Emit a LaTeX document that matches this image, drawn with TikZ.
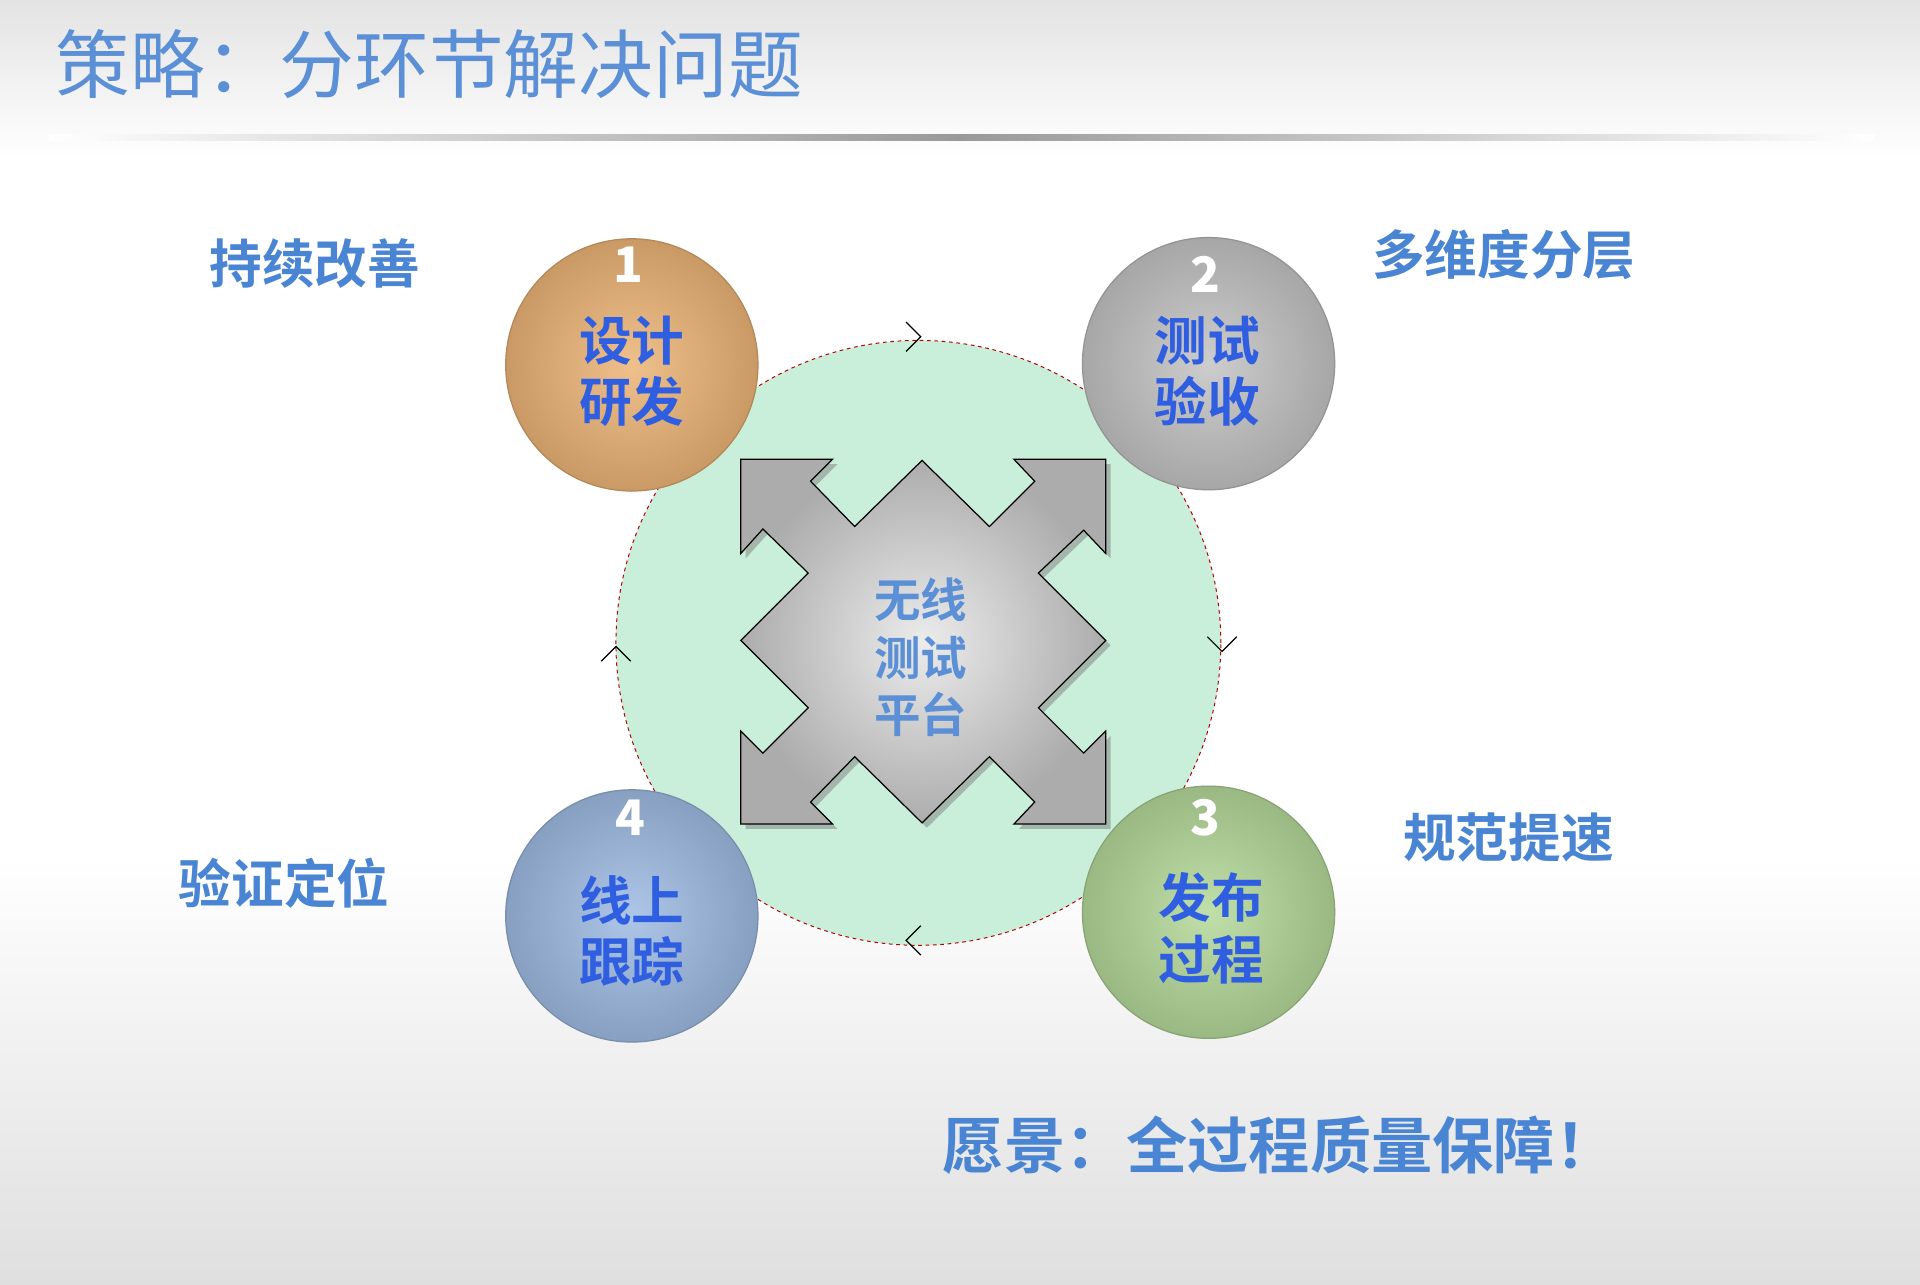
\documentclass[tikz,border=0pt]{standalone}
\usepackage{fontspec}
\setmainfont{Noto Sans CJK SC}
\newfontfamily\cjkb{Noto Sans CJK SC Bold}
\usetikzlibrary{shadows,calc}
\definecolor{ttl}{HTML}{5B8FD6}
\definecolor{lbl}{HTML}{4A85D4}
\definecolor{ctxt}{HTML}{2F5FE0}
\definecolor{ringc}{HTML}{C9EED9}
\definecolor{c1}{HTML}{EDB577}
\definecolor{c2}{HTML}{C4C4C4}
\definecolor{c3}{HTML}{B5D99A}
\definecolor{c4}{HTML}{9FBCE4}
\tikzset{
 ball/.style={circle,minimum size=206pt,inner sep=0pt,draw=#1!75!black,line width=1pt,inner color=#1!85!white,outer color=#1!85!black},
 ctext/.style={font=\cjkb\fontsize{43}{50}\selectfont,text=ctxt,align=center},
 num/.style={font=\bfseries\fontsize{40}{40}\selectfont,text=white},
 side/.style={font=\cjkb\fontsize{43}{50}\selectfont,text=lbl},
 chev/.style={line width=1pt}
}
\begin{document}
\begin{tikzpicture}[x=1pt,y=-1pt]
\useasboundingbox (0,0) rectangle (1568,1049);
\shade[top color=gray!22,bottom color=white] (0,0) rectangle (1568,130);
\fill[white] (0,130) rectangle (1568,700);
\shade[top color=white,bottom color=gray!25] (0,700) rectangle (1568,1049);
\shade[left color=white,right color=gray!80] (40,110) rectangle (784,115);
\shade[left color=gray!80,right color=white] (784,110) rectangle (1530,115);
\node[anchor=west,font=\fontsize{61}{61}\selectfont,text=ttl] (title) at (42,52) {策略：分环节解决问题};
\node[circle,minimum size=494pt,fill=ringc,draw=red!70!black,dashed,line width=0.8pt] (ring) at (750,525) {};
\draw[chev] (740,263)--(752,275)--(740,287);
\draw[chev] (986,520)--(998,532)--(1010,520);
\draw[chev] (752,756)--(740,768)--(752,780);
\draw[chev] (491,540)--(503,528)--(515,540);
\node[ball=c1] (b1) at (516,298) {};
\node[ball=c2] (b2) at (987,297) {};
\node[ball=c3] (b3) at (987,745) {};
\node[ball=c4] (b4) at (516,748) {};
\node[num] at (513,216) {1};
\node[num] at (984,224) {2};
\node[num] at (984,668) {3};
\node[num] at (515,668) {4};
\node[ctext] at (516,303) {设计\\研发};
\node[ctext] at (986,303) {测试\\验收};
\node[ctext] at (989,758) {发布\\过程};
\node[ctext] at (516,760) {线上\\跟踪};
\shade[inner color=gray!15,outer color=gray!65,draw=black,line width=1pt,drop shadow={shadow xshift=4pt,shadow yshift=-4pt,opacity=0.5}]
 (605,375)--(680,375)--(662,393)--(698,430)--(753,376)--(808,430)--(845,393)--(828,375)--(903,375)--(903,452)--(885,433)--(848,468)--(903,523)--(848,578)--(885,615)--(903,597)--(903,673)--(828,673)--(845,655)--(808,618)--(753,672)--(698,618)--(662,655)--(680,673)--(605,673)--(605,597)--(623,615)--(660,578)--(605,523)--(660,468)--(623,432)--(605,452)--cycle;
\node[font=\cjkb\fontsize{38}{47}\selectfont,text=ttl,align=center] (core) at (752,537) {无线\\测试\\平台};
\node[side] (s1) at (257,215) {持续改善};
\node[side] (s2) at (1228,208) {多维度分层};
\node[side] (s3) at (1232,684) {规范提速};
\node[side] (s4) at (232,721) {验证定位};
\node[font=\cjkb\fontsize{50}{50}\selectfont,text=lbl] (vision) at (1045,935) {愿景：全过程质量保障！};
\end{tikzpicture}
\end{document}
